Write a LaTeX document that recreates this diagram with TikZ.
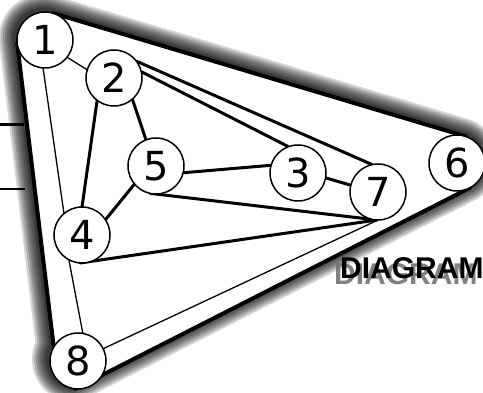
\documentclass[tikz,border=0pt]{standalone}
\usepackage{fontspec}
\newfontfamily\numfont{DejaVu Sans}
\newfontfamily\titlefont{Liberation Sans}
\usetikzlibrary{calc}
\pgfdeclarelayer{bg}
\pgfsetlayers{bg,main}
\newcommand\hullpath{(n1.73) -- (n6.73) arc[start angle=73,end angle=-63,radius=28] -- (n8.264) arc[start angle=264,end angle=150,radius=28] -- (n1.187) arc[start angle=187,end angle=73,radius=28] -- cycle}
\begin{document}
\begin{tikzpicture}[x=1pt,y=1pt,
  vertex/.style={circle,draw=black,line width=1.5pt,fill=white,minimum size=56pt,inner sep=0pt,outer sep=0pt,font=\numfont\fontsize{40}{40}\selectfont},
  rim/.style={line width=4pt,line cap=round},
  heavy/.style={line width=3pt,line cap=round},
  light/.style={line width=1.3pt,line cap=round},
  glowline/.style={draw=black,draw opacity=0.17,line join=round},
  titletext/.style={anchor=base west,inner sep=0pt,font=\titlefont\bfseries\fontsize{30}{30}\selectfont}]
\useasboundingbox (0,0) rectangle (483,393);
\clip (0,0) rectangle (483,393);

\node[vertex] (n1) at (45,353) {1};
\node[vertex] (n2) at (114,315) {2};
\node[vertex] (n3) at (298,220) {3};
\node[vertex] (n4) at (82,158) {4};
\node[vertex] (n5) at (156,227) {5};
\node[vertex] (n6) at (457,230) {6};
\node[vertex] (n7) at (378,201) {7};
\node[vertex] (n8) at (78,32) {8};

\node[titletext,text=black!55,opacity=0.9] (tshadow) at (334,108) {DIAGRAM};
\node[titletext,text=black] (title) at (340,114) {DIAGRAM};

\begin{pgfonlayer}{bg}
  % glow
  \begin{scope}[transform canvas={shift={(-2,2)}}]
    \foreach \w in {32,28,24,20,16,12,8,5}{
      \draw[glowline,line width=\w pt] \hullpath;
    }
  \end{scope}
  \fill[white] \hullpath;

  % stubs at the left
  \coordinate (a1) at (0,268);
  \coordinate (a2) at (24,268);
  \coordinate (b1) at (0,204);
  \coordinate (b2) at (25,204);
  \draw[line width=3pt] (a1) -- (a2);
  \draw[line width=1.3pt] (b1) -- (b2);

  % outer rim
  \draw[rim] (n1.73) -- (n6.73);
  \draw[rim] (n1.187) -- (n8.150);
  \draw[rim] (n8.264) -- (n6.297);

  % connectors
  \draw[light] (n1.322) -- (n2.163);
  \draw[light] (n1.266) -- (n4.130);
  \draw[heavy] (n2.233) -- (n4.90);
  \draw[heavy] (n2.311) -- (n5.111);
  \draw[heavy] (n2.13) -- (n3.110);
  \draw[heavy] (n2.37) -- (n7.102);
  \draw[heavy] (n5.346) -- (n3.164);
  \draw[heavy] (n3.350) -- (n7.166);
  \draw[heavy] (n5.258) -- (n7.259);
  \draw[heavy] (n5.220) -- (n4.33);
  \draw[heavy] (n4.266) -- (n7.268);
  \draw[light] (n8.26) -- (n7.270);
  \draw[light] (n4.242) -- (n8.80);
\end{pgfonlayer}
\end{tikzpicture}
\end{document}
